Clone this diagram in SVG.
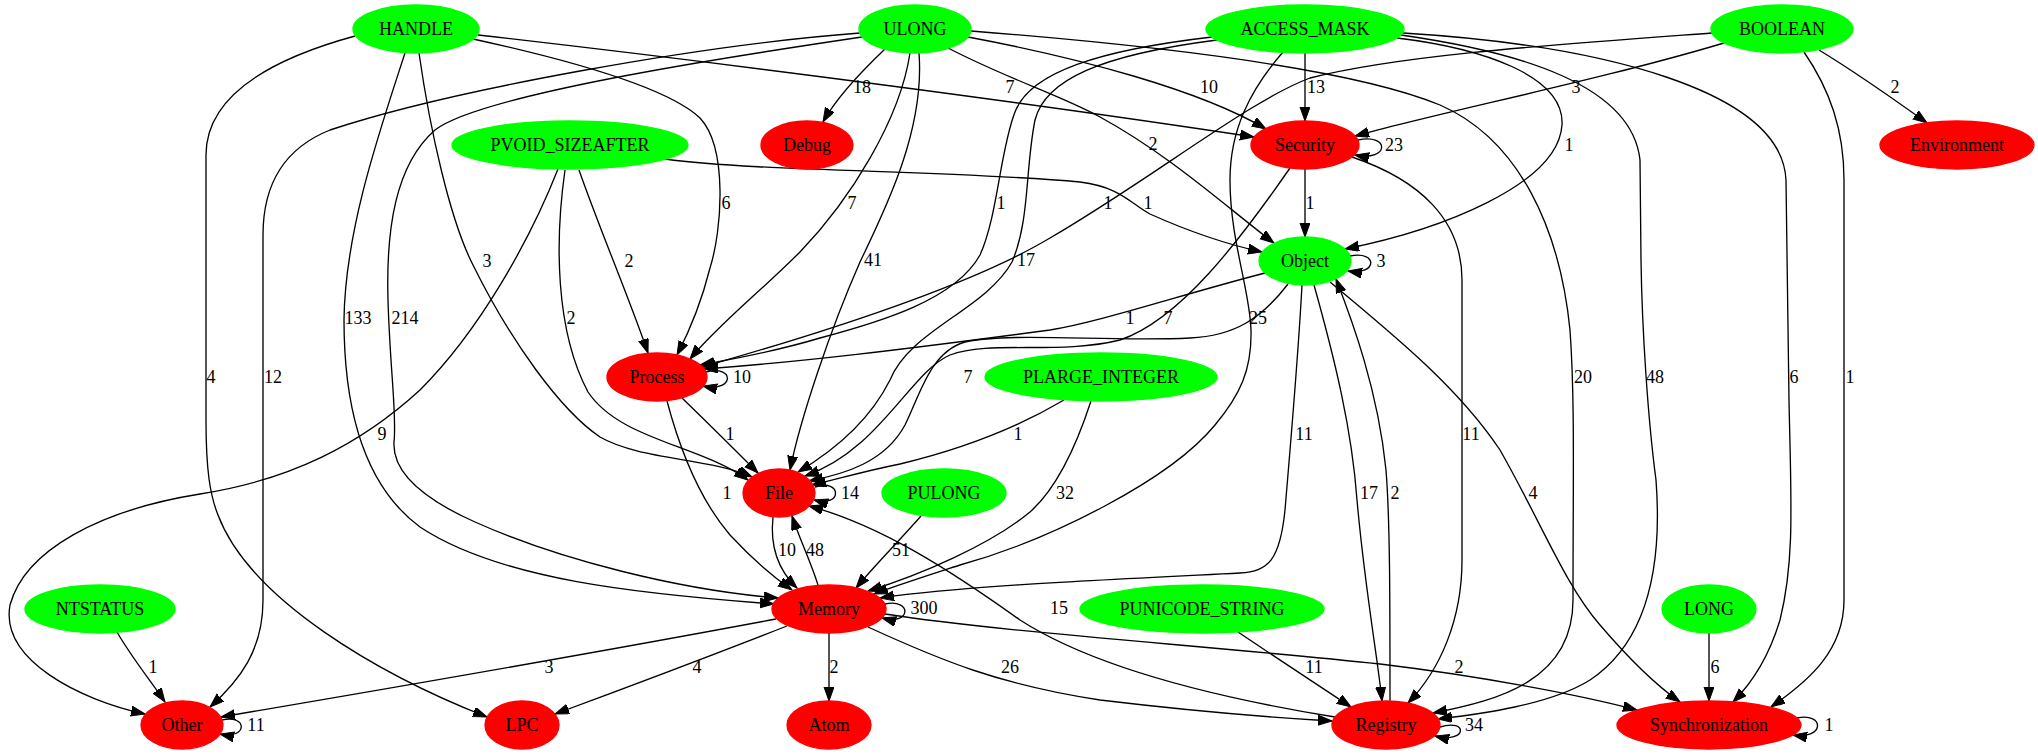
<svg xmlns="http://www.w3.org/2000/svg" width="2038" height="755" viewBox="0 0 2038 755">
<defs>
<style>
text{font-family:"Liberation Serif","Times New Roman",serif;font-size:18px;text-anchor:middle;fill:#000}
.src ellipse{fill:#00ff00;stroke:#00ff00;stroke-width:1.33}
.dst ellipse{fill:#ff0000;stroke:#ff0000;stroke-width:1.33}
#edges path{fill:none;stroke:#000;stroke-width:1.33;marker-end:url(#arrow)}
</style>
<marker id="arrow" markerUnits="userSpaceOnUse" markerWidth="16" markerHeight="12" refX="14" refY="5" orient="auto">
<path d="M0,0 L14,5 L0,10 Z" fill="#000" stroke="#000" stroke-width="1"/>
</marker>
</defs>
<rect width="2038" height="755" fill="#fff"/>

<g id="edges">
<!-- HANDLE -->
<g id="e-handle-security"><path d="M478,35 C750,66 1050,106 1254,137"/><text x="1010" y="93">7</text></g>
<g id="e-handle-process"><path d="M473,39 C560,58 665,85 700,118 C728,148 722,230 710,268 C702,300 690,330 677,355"/><text x="726" y="209">6</text></g>
<g id="e-handle-lpc"><path d="M355,36 C260,62 206,100 206,155 L206,420 C206,470 210,495 218,515 C250,600 380,675 487,717"/><text x="211" y="383">4</text></g>
<g id="e-handle-memory"><path d="M405,53 C380,130 345,230 344,320 C344,420 370,490 420,527 C500,580 640,594 774,604"/><text x="358" y="324">133</text></g>
<g id="e-handle-file"><path d="M419,53 C430,130 450,220 473,265 C510,340 560,410 600,437 C640,460 710,458 752,477"/><text x="487" y="267">3</text></g>
<!-- ULONG -->
<g id="e-ulong-other"><path d="M860,33 C700,45 450,90 330,130 C280,150 263,190 263,235 L263,600 C263,650 240,680 210,707"/><text x="273" y="383">12</text></g>
<g id="e-ulong-memory"><path d="M862,37 C720,58 480,95 435,130 C395,165 386,230 388,300 C390,370 397,415 394,442 C392,475 430,502 475,522 C560,560 680,590 778,598"/><text x="405" y="324">214</text></g>
<g id="e-ulong-debug"><path d="M885,49 C865,68 838,95 823,122"/><text x="862" y="93">18</text></g>
<g id="e-ulong-process"><path d="M910,53 C900,120 850,200 800,252 C760,292 718,325 690,359"/><text x="852" y="209">7</text></g>
<g id="e-ulong-file"><path d="M919,53 C925,130 885,210 860,262 C830,330 800,420 790,470"/><text x="873" y="266">41</text></g>
<g id="e-ulong-object"><path d="M948,48 C1010,80 1060,95 1100,117 C1170,155 1230,210 1274,243"/><text x="1153" y="150">2</text></g>
<g id="e-ulong-security"><path d="M968,37 C1080,58 1200,90 1266,129"/><text x="1209" y="93">10</text></g>
<g id="e-ulong-registry"><path d="M971,31 C1150,45 1350,68 1440,105 C1520,140 1560,230 1570,330 C1575,400 1573,480 1573,600 C1573,680 1500,700 1433,713"/><text x="1583" y="383">20</text></g>
<!-- ACCESS_MASK -->
<g id="e-access-security"><path d="M1305,53 L1305,121"/><text x="1316" y="93">13</text></g>
<g id="e-access-process"><path d="M1212,37 C1100,50 1030,72 1015,112 C1000,150 998,215 980,255 C955,300 880,322 820,338 C780,350 740,358 700,365"/><text x="1001" y="209">1</text></g>
<g id="e-access-file"><path d="M1217,40 C1100,55 1045,80 1035,120 C1025,170 1030,220 1012,262 C985,310 910,330 890,380 C870,420 835,450 798,472"/><text x="1026" y="266">17</text></g>
<g id="e-access-memory"><path d="M1283,52 C1250,90 1230,130 1230,180 C1230,240 1250,290 1251,330 C1252,370 1240,395 1215,425 C1170,480 1050,540 960,565 C920,578 895,586 874,594"/><text x="1258" y="324">25</text></g>
<g id="e-access-object"><path d="M1397,38 C1480,48 1565,75 1562,125 C1558,185 1440,230 1345,249"/><text x="1569" y="151">1</text></g>
<g id="e-access-registry"><path d="M1401,35 C1520,52 1632,85 1640,160 L1641,260 C1642,330 1648,420 1656,480 C1662,560 1650,640 1590,680 C1550,705 1480,714 1438,719"/><text x="1655" y="383">48</text></g>
<g id="e-access-sync"><path d="M1403,33 C1600,45 1782,90 1786,180 L1789,400 C1791,500 1795,560 1780,620 C1768,660 1750,685 1733,702"/><text x="1794" y="383">6</text></g>
<!-- BOOLEAN -->
<g id="e-boolean-security"><path d="M1724,43 C1600,80 1450,110 1355,136"/><text x="1576" y="93">3</text></g>
<g id="e-boolean-process"><path d="M1712,33 C1550,45 1400,55 1310,78 C1250,100 1150,180 1050,238 C980,280 850,325 702,367"/><text x="1108" y="209">1</text></g>
<g id="e-boolean-environment"><path d="M1819,50 C1860,75 1895,100 1927,123"/><text x="1895" y="93">2</text></g>
<g id="e-boolean-sync"><path d="M1804,52 C1830,90 1844,130 1844,180 L1844,600 C1844,650 1810,680 1771,707"/><text x="1850" y="383">1</text></g>
<!-- PVOID_SIZEAFTER -->
<g id="e-pvoid-object"><path d="M665,159 C760,172 950,170 1080,182 C1120,187 1130,203 1150,214 C1190,232 1230,245 1262,252"/><text x="1148" y="209">1</text></g>
<g id="e-pvoid-process"><path d="M579,170 C600,230 630,300 648,353"/><text x="629" y="267">2</text></g>
<g id="e-pvoid-file"><path d="M565,170 C555,240 555,330 588,392 C620,440 700,445 748,480"/><text x="571" y="324">2</text></g>
<g id="e-pvoid-other"><path d="M558,169 C530,240 480,330 420,390 C360,445 290,480 200,494 C100,510 25,550 10,605 C0,660 80,700 145,714"/><text x="382" y="440">9</text></g>
<!-- Object -->
<g id="e-object-object"><path d="M1350,256 C1378,250 1378,276 1348,271"/><text x="1381" y="267">3</text></g>
<g id="e-object-process"><path d="M1265,273 C1180,295 1100,322 1050,330 C900,350 800,362 704,369"/><text x="1130" y="324">1</text></g>
<g id="e-object-file"><path d="M1288,284 C1262,318 1235,336 1190,338 C1110,342 1010,332 965,342 C930,352 920,395 905,425 C885,462 845,474 809,481"/><text x="968" y="383">7</text></g>
<g id="e-object-memory"><path d="M1302,285 C1298,360 1290,450 1285,510 C1280,560 1268,572 1240,573 C1100,580 960,586 880,598"/><text x="1304" y="440">11</text></g>
<g id="e-object-registry"><path d="M1314,285 C1335,360 1352,430 1357,500 C1365,590 1378,660 1382,701"/><text x="1369" y="499">17</text></g>
<g id="e-object-sync"><path d="M1330,282 C1400,340 1460,390 1500,450 C1540,520 1565,585 1600,625 C1630,660 1660,688 1680,702"/><text x="1533" y="499">4</text></g>
<!-- Security -->
<g id="e-security-security"><path d="M1358,140 C1390,133 1390,162 1355,155"/><text x="1394" y="151">23</text></g>
<g id="e-security-object"><path d="M1305,169 L1305,237"/><text x="1310" y="209">1</text></g>
<g id="e-security-file"><path d="M1290,168 C1240,240 1180,320 1120,340 C1060,355 990,340 950,355 C910,372 880,450 805,476"/><text x="1168" y="324">7</text></g>
<g id="e-security-registry"><path d="M1352,157 C1420,180 1462,220 1462,280 L1462,560 C1462,620 1440,670 1408,703"/><text x="1471" y="440">11</text></g>
<!-- Process -->
<g id="e-process-process"><path d="M706,372 C735,364 735,393 703,386"/><text x="742" y="383">10</text></g>
<g id="e-process-file"><path d="M682,398 C710,425 735,450 758,473"/><text x="730" y="440">1</text></g>
<g id="e-process-memory"><path d="M667,401 C680,450 700,500 730,535 C755,562 775,578 792,590"/><text x="727" y="499">1</text></g>
<!-- PLARGE_INTEGER -->
<g id="e-plarge-file"><path d="M1064,400 C1010,432 950,452 900,464 C860,472 835,480 812,485"/><text x="1018" y="440">1</text></g>
<g id="e-plarge-memory"><path d="M1091,401 C1075,450 1055,490 1030,512 C990,545 920,575 868,591"/><text x="1065" y="499">32</text></g>
<!-- File -->
<g id="e-file-file"><path d="M815,487 C842,478 843,508 814,500"/><text x="850" y="499">14</text></g>
<g id="e-file-memory"><path d="M773,517 C770,545 778,570 797,588"/><text x="787" y="556">10</text></g>
<!-- Memory -->
<g id="e-memory-file"><path d="M818,585 C810,560 800,540 792,516"/><text x="815" y="556">48</text></g>
<g id="e-memory-memory"><path d="M885,604 C912,598 912,626 882,618"/><text x="924" y="614">300</text></g>
<g id="e-memory-other"><path d="M776,619 C600,652 380,690 221,717"/><text x="549" y="673">3</text></g>
<g id="e-memory-lpc"><path d="M787,626 C700,660 620,690 555,714"/><text x="697" y="673">4</text></g>
<g id="e-memory-atom"><path d="M829,633 L829,701"/><text x="834" y="673">2</text></g>
<g id="e-memory-registry"><path d="M868,627 C940,660 1000,685 1100,700 C1200,712 1280,718 1332,721"/><text x="1010" y="673">26</text></g>
<g id="e-memory-sync"><path d="M885,614 C1000,632 1200,645 1380,664 C1480,676 1580,695 1637,710"/><text x="1459" y="673">2</text></g>
<!-- Registry -->
<g id="e-registry-object"><path d="M1390,701 C1390,600 1390,520 1386,470 C1378,390 1352,320 1336,279"/><text x="1395" y="499">2</text></g>
<g id="e-registry-file"><path d="M1335,717 C1200,695 1090,665 1020,620 C950,570 880,525 809,506"/><text x="1059" y="614">15</text></g>
<g id="e-registry-registry"><path d="M1440,727 C1468,718 1468,744 1435,736"/><text x="1474" y="731">34</text></g>
<!-- remaining sources -->
<g id="e-pulong-memory"><path d="M921,516 C900,540 875,565 856,588"/><text x="901" y="556">51</text></g>
<g id="e-ntstatus-other"><path d="M117,632 C130,655 150,680 165,702"/><text x="153" y="673">1</text></g>
<g id="e-punicode-registry"><path d="M1238,632 C1275,657 1315,683 1351,707"/><text x="1314" y="673">11</text></g>
<g id="e-long-sync"><path d="M1709,633 L1709,701"/><text x="1715" y="673">6</text></g>
<g id="e-sync-sync"><path d="M1797,718 C1825,712 1825,740 1793,735"/><text x="1829" y="731">1</text></g>
<g id="e-other-other"><path d="M222,720 C248,714 248,740 220,734"/><text x="256" y="731">11</text></g>
</g>

<!-- rank 1 -->
<g id="HANDLE" class="src"><ellipse cx="416" cy="29" rx="63" ry="24"/><text x="416" y="35">HANDLE</text></g>
<g id="ULONG" class="src"><ellipse cx="915" cy="29" rx="56" ry="24"/><text x="915" y="35">ULONG</text></g>
<g id="ACCESS_MASK" class="src"><ellipse cx="1305" cy="29" rx="99" ry="24"/><text x="1305" y="35">ACCESS_MASK</text></g>
<g id="BOOLEAN" class="src"><ellipse cx="1782" cy="29" rx="71" ry="24"/><text x="1782" y="35">BOOLEAN</text></g>
<!-- rank 2 -->
<g id="PVOID_SIZEAFTER" class="src"><ellipse cx="570" cy="145" rx="118" ry="24"/><text x="570" y="151">PVOID_SIZEAFTER</text></g>
<g id="Debug" class="dst"><ellipse cx="807" cy="145" rx="46" ry="24"/><text x="807" y="151">Debug</text></g>
<g id="Security" class="dst"><ellipse cx="1305" cy="145" rx="54" ry="24"/><text x="1305" y="151">Security</text></g>
<g id="Environment" class="dst"><ellipse cx="1957" cy="145" rx="77" ry="24"/><text x="1957" y="151">Environment</text></g>
<!-- rank 3 -->
<g id="Object" class="src"><ellipse cx="1305" cy="261" rx="46" ry="24"/><text x="1305" y="267">Object</text></g>
<!-- rank 4 -->
<g id="Process" class="dst"><ellipse cx="657" cy="377" rx="50" ry="24"/><text x="657" y="383">Process</text></g>
<g id="PLARGE_INTEGER" class="src"><ellipse cx="1101" cy="377" rx="116" ry="24"/><text x="1101" y="383">PLARGE_INTEGER</text></g>
<!-- rank 5 -->
<g id="File" class="dst"><ellipse cx="779" cy="493" rx="36" ry="24"/><text x="779" y="499">File</text></g>
<g id="PULONG" class="src"><ellipse cx="944" cy="493" rx="62" ry="24"/><text x="944" y="499">PULONG</text></g>
<!-- rank 6 -->
<g id="NTSTATUS" class="src"><ellipse cx="100" cy="609" rx="75" ry="24"/><text x="100" y="615">NTSTATUS</text></g>
<g id="Memory" class="dst"><ellipse cx="829" cy="609" rx="57" ry="24"/><text x="829" y="615">Memory</text></g>
<g id="PUNICODE_STRING" class="src"><ellipse cx="1202" cy="609" rx="122" ry="24"/><text x="1202" y="615">PUNICODE_STRING</text></g>
<g id="LONG" class="src"><ellipse cx="1709" cy="609" rx="47" ry="24"/><text x="1709" y="615">LONG</text></g>
<!-- rank 7 -->
<g id="Other" class="dst"><ellipse cx="182" cy="725" rx="41" ry="24"/><text x="182" y="731">Other</text></g>
<g id="LPC" class="dst"><ellipse cx="522" cy="725" rx="37" ry="24"/><text x="522" y="731">LPC</text></g>
<g id="Atom" class="dst"><ellipse cx="829" cy="725" rx="42" ry="24"/><text x="829" y="731">Atom</text></g>
<g id="Registry" class="dst"><ellipse cx="1386" cy="725" rx="54" ry="24"/><text x="1386" y="731">Registry</text></g>
<g id="Synchronization" class="dst"><ellipse cx="1709" cy="725" rx="92" ry="24"/><text x="1709" y="731">Synchronization</text></g>
</svg>
